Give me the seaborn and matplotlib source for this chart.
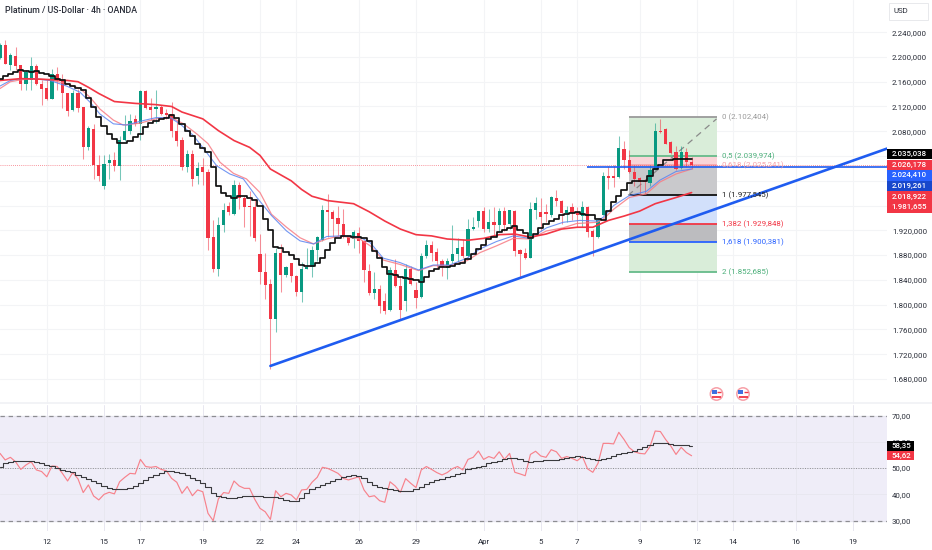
import numpy as np
import pandas as pd
import matplotlib
matplotlib.use("Agg")
import matplotlib.pyplot as plt
from matplotlib.patches import Rectangle, Circle
import seaborn as sns

opens = [2198,2219,2187,2201,2187,2156,2162,2185,2156,2150,2132,2172,2162,2141,2115,2142,2119,2055,2084,2026,1992,2029,2034,2024,2066,2081,2099,2091,2145,2119,2116,2119,2109,2108,2081,2066,
2023,2043,2008,2023,2015,1909,1857,1928,1960,1947,1994,1973,1960,1958,1882,1853,1833,1777,1884,1848,1867,1847,1820,1858,1860,1889,1904,1953,1950,1940,1931,1911,1906,1916,1902,1855,1819,1825,1806,1791,1856,1830,1806,1857,1823,1812,1879,1896,1885,1871,1859,1870,1881,1893,1879,1922,1935,1951,1922,1933,1928,1952,1931,1952,1889,1883,1876,1953,1949,1949,1945,1973,1968,1948,1957,1950,1943,1958,1919,1910,
1945,2008,2008,2006,2052,2034,2015,2004,2000,1996,2018,2080,2084,2063,2046,2021,2047,2031]
highs = [2222,2227,2206,2216,2187,2179,2200,2189,2162,2165,2181,2184,2172,2141,2146,2149,2119,2089,2092,2041,2041,2043,2046,2073,2106,2108,2106,2147,2147,2134,2146,2122,2116,2127,2098,2071,
2049,2050,2030,2037,2019,1937,1941,1964,1965,2001,1998,1976,1984,1971,1914,1884,1841,1892,1898,1863,1868,1848,1869,1891,1895,1911,1961,1979,1953,1960,1954,1911,1920,1925,1904,1866,1852,1832,1818,1860,1873,1846,1865,1863,1836,1884,1904,1903,1892,1873,1875,1929,1907,1906,1938,1942,1952,1958,1954,1958,1956,1957,1953,1953,1890,1892,1965,1974,1973,1963,1976,1985,1969,1960,1964,1957,1967,1960,1922,1938,
2014,2024,2026,2072,2065,2049,2025,2006,2003,2025,2093,2100,2085,2064,2057,2057,2053,2039]
lows = [2196,2189,2179,2179,2147,2147,2146,2154,2122,2131,2132,2146,2118,2104,2113,2111,2035,2050,2003,2000,1987,2003,2016,2002,2065,2076,2089,2066,2116,2098,2093,2106,2100,2071,2057,2017,
2014,1991,1995,1994,1889,1852,1846,1917,1944,1944,1954,1925,1911,1902,1834,1809,1696,1756,1820,1845,1837,1814,1805,1857,1844,1871,1903,1909,1909,1911,1908,1896,1892,1883,1836,1816,1809,1787,1785,1790,1828,1777,1790,1832,1795,1811,1876,1871,1859,1847,1842,1868,1865,1876,1877,1920,1925,1917,1917,1913,1919,1919,1922,1878,1844,1873,1875,1938,1919,1933,1941,1960,1930,1933,1936,1925,1925,1910,1878,1908,
1944,1987,1990,2005,2019,2012,1991,1979,1979,1991,2017,2077,2059,2043,2018,2019,2022,2019]
closes = [2219,2189,2203,2186,2156,2176,2185,2156,2149,2132,2172,2162,2142,2112,2141,2118,2055,2085,2026,2007,2027,2034,2024,2066,2081,2097,2092,2145,2118,2115,2119,2108,2106,2080,2065,2023,
2044,2003,2021,2014,1907,1857,1928,1953,1949,1994,1972,1958,1957,1907,1852,1832,1777,1884,1848,1861,1847,1820,1858,1861,1889,1909,1953,1949,1939,1931,1910,1899,1917,1902,1856,1819,1825,1798,1790,1856,1830,1791,1857,1833,1811,1879,1896,1884,1871,1860,1870,1882,1892,1879,1922,1925,1951,1922,1933,1929,1952,1929,1953,1887,1882,1876,1954,1964,1941,1946,1974,1967,1948,1953,1948,1945,1958,1918,1910,1936,
2007,2005,2005,2053,2034,2014,2003,1998,1998,2018,2080,2078,2060,2045,2019,2047,2031,2026]
signal_line = [2165,2169,2172,2176,2179,2178,2176,2178,2174,2172,2169,2165,2162,2157,2153,2150,2146,2133,2119,2103,2088,2076,2068,2061,2061,2065,2070,2075,2087,2093,2097,2100,2102,2106,2102,2091,2080,2073,2060,2053,2046,2022,1992,1981,1976,1972,1975,1976,1972,1969,1959,1939,1920,1893,1892,1885,1880,1873,1864,1863,1862,1868,1875,1889,1900,1907,1911,1911,1910,1910,1907,1902,1887,1875,1860,1849,1848,1845,1843,1841,1839,1837,1845,1854,1857,1860,1861,1863,1866,1868,1873,1881,1890,1897,1906,1910,1917,1920,1924,1927,1920,1915,1907,1914,1924,1931,1935,1939,1945,1946,1948,1949,1946,1945,1944,1938,1937,1952,1965,1976,1985,1996,2000,2000,2000,2008,2019,2026,2033,2034,2036,2036,2036,2035]
ema_x = [0,4,8,13,15,17,19,22,26,30,33,35,39,42,45,48,50,52,56,58,60,63,68,71,74,77,80,83,86,90,93,96,99,102,105,108,111,114,117,120,123,126,130,133]
ema_y = [2162,2165,2164,2162,2160,2151,2141,2128,2125,2123,2120,2111,2100,2081,2065,2054,2041,2019,2000,1986,1975,1968,1963,1950,1935,1922,1913,1911,1906,1904,1907,1913,1914,1909,1914,1922,1925,1925,1936,1943,1951,1963,1973,1981]
pink_x = [0,2,4,6.4,9.6,12.8,15.4,17.3,19.2,21.8,23.7,26.9,30,32.7,35.3,37.8,40,42.3,44.9,47.4,50,52.2,55.1,57.7,60.3,62.8,65.4,69.2,71.2,73.7,76.9,80.5,83.3,86.5,89.8,92.3,95.5,98.7,101.9,105.1,108.3,110.9,114.8,116,118,121,124.3,126.9,130,133]
pink_y = [2149,2160,2163,2165,2163,2157,2149,2135,2116,2098,2090,2093,2100,2103,2092,2076,2060,2030,2012,2003,1981,1946,1925,1908,1898,1906,1911,1906,1895,1872,1865,1855,1863,1863,1871,1884,1895,1907,1906,1919,1924,1931,1933,1938,1954,1973,1979,1998,2011,2019]
blue_x = [0,2,4,6.4,9.6,12.8,15.4,17.3,19.2,21.8,24.4,26.9,30,32.7,34.6,37.2,39.7,41.7,44.2,46.8,49.4,52.2,55.1,57.7,60.3,62.8,65.4,69.2,71.2,73.7,76.9,80.5,83.3,86.5,89.8,92.3,95.5,98.7,101.9,105.1,108.3,111.5,114.8,116,118,121,124.3,126.9,130,133]
blue_y = [2153,2162,2165,2165,2162,2153,2143,2127,2108,2092,2090,2096,2102,2102,2092,2073,2046,2024,2011,2003,1973,1944,1919,1903,1898,1910,1911,1909,1900,1875,1868,1856,1864,1864,1875,1890,1902,1911,1907,1924,1933,1936,1935,1941,1960,1976,1983,2001,2015,2019]
rsi = [55.6,53.1,54.1,52.4,49.5,51.2,52.4,49.3,48.7,46.7,50.8,50.6,48.0,45.1,48.3,45.9,40.7,43.6,39.4,37.9,40.0,40.8,40.2,44.8,46.5,48.0,47.8,53.3,50.6,50.3,50.6,49.5,49.0,46.1,44.6,40.4,43.0,39.5,41.7,41.0,32.8,30.0,38.3,40.7,40.4,45.1,43.2,42.3,42.3,38.1,34.7,33.4,30.5,41.4,39.1,40.4,39.8,37.9,41.7,41.9,44.6,46.5,50.3,49.9,49.0,48.0,46.1,45.5,46.1,46.7,41.7,39.1,39.5,37.6,37.0,44.8,43.2,40.8,46.0,44.2,42.6,49.3,50.6,49.5,48.3,47.4,48.3,49.8,50.6,49.3,
53.3,54.1,56.5,53.3,54.4,53.7,56.2,53.3,55.6,48.4,47.8,47.1,55.2,56.4,54.6,54.1,57.0,56.2,53.7,54.4,53.7,52.8,54.4,49.7,48.4,51.8,59.4,59.4,59.2,63.6,60.9,57.8,56.2,55.6,55.4,58.2,64.1,63.9,60.9,58.4,55.2,57.9,55.9,54.7]
rsi_ma = [50.6,51.8,52.4,52.8,52.8,52.8,52.8,52.4,51.8,51.2,50.8,50.2,49.3,49.0,48.7,47.4,46.7,45.9,45.1,44.2,43.2,42.3,42.1,41.9,41.9,42.3,43.2,44.2,45.5,46.5,47.4,48.3,49.0,49.0,48.7,48.0,47.4,46.1,45.5,44.2,42.7,40.7,39.5,38.9,38.5,38.8,39.1,39.4,39.4,39.4,39.5,39.1,39.0,39.0,38.5,37.9,37.6,37.6,38.5,40.4,41.9,42.7,43.6,44.2,45.1,45.7,46.5,47.0,47.3,47.0,46.1,44.8,43.6,42.7,42.3,41.9,41.7,41.3,41.2,41.4,41.9,42.7,44.0,44.8,45.5,45.9,46.5,47.0,47.8,48.3,
49.5,49.9,50.6,50.9,51.8,52.3,52.8,53.3,54.0,53.7,53.3,52.8,52.3,52.8,52.8,53.0,53.0,53.1,53.3,53.7,54.4,54.6,54.1,53.7,53.3,53.2,53.3,53.7,54.6,55.2,55.9,56.2,56.6,57.3,58.2,58.8,59.4,59.4,59.4,59.0,58.7,58.7,58.7,58.3]
price_ticks = [2240,2200,2160,2120,2080,2040,2000,1960,1920,1880,1840,1800,1760,1720,1680]
price_labels = ["2.240,000","2.200,000","2.160,000","2.120,000","2.080,000","","","","1.920,000","1.880,000","1.840,000","1.800,000","1.760,000","1.720,000","1.680,000"]
rsi_ticks = [70,60,50,40,30]
rsi_labels = ["70,00","60,00","50,00","40,00","30,00"]
time_pos = [9,20,27,39,50,57,69,80,93,104,111,123,134,141,153,164]
time_labels = ["12","15","17","19","22","24","26","29","Apr","5","7","9","12","14","16","19"]
fib_levels = [2102.404,2039.974,2025.241,1977.545,1929.848,1900.381,1852.685]
fib_names = ["0 (2.102,404)","0,5 (2.039,974)","0,618 (2.025,241)","1 (1.977,545)","1,382 (1.929,848)","1,618 (1.900,381)","2 (1.852,685)"]
fib_line_colors = ["#9a9a9a","#66bb8a","#f7a6ad","#111111","#f23645","#2962ff","#66bb8a"]
fib_text_colors = ["#9a9a9a","#4caf7a","#f7a0a8","#222222","#f23645","#2962ff","#4caf7a"]
fib_fill_colors = ["#d9edd9","#f9d4d8","#c9c9cc","#d2e0fb","#bcbcbf","#d9edd9"]
value_labels = ["2.035,038","2.026,178","2.024,410","2.019,261","2.018,922","1.981,655"]
value_colors = ["#000000","#f23645","#2962ff","#1848cc","#f23645","#f23645"]
rsi_value_labels = ["58,35","54,62"]
rsi_value_colors = ["#000000","#f23645"]
title = "Platinum / US-Dollar \u00b7 4h \u00b7 OANDA"

sns.set_theme(style="white")
plt.rcParams["font.family"] = ["Roboto", "DejaVu Sans"]

W, H = 932, 550
PX_PER_CANDLE = 5.2
PANE_R = 887
FS = 5.7
fig = plt.figure(figsize=(W/100, H/100), dpi=100, facecolor="white")
ax = fig.add_axes([0, 1-404/H, PANE_R/W, 404/H])
axr = fig.add_axes([0, 1-531/H, PANE_R/W, (531-405)/H])

TXT = "#2a2e39"
GRID = "#f3f4f6"
for a in (ax, axr):
    a.set_facecolor("white")
    for s in a.spines.values():
        s.set_visible(False)
    a.set_xlim(0, PANE_R/PX_PER_CANDLE)
    a.yaxis.tick_right()
    a.set_xticks(time_pos)
    a.grid(True, color=GRID, lw=0.8)
    a.set_axisbelow(True)
    a.tick_params(length=0, pad=3.5, labelsize=FS, labelcolor=TXT)
    a.set_xlabel("")
    a.set_ylabel("")

# price pane
ax.set_ylim(1680-25*1.619, 1680+378*1.619)
ax.set_yticks(price_ticks)
ax.set_yticklabels(price_labels)
ax.set_xticklabels([])

# fib block
left, right = 121, 137.8
for k in range(6):
    ax.add_patch(Rectangle((left, fib_levels[k+1]), right-left, fib_levels[k]-fib_levels[k+1],
                           fc=fib_fill_colors[k], ec="none", zorder=1))
for lv, lc, tc, nm in zip(fib_levels, fib_line_colors, fib_text_colors, fib_names):
    ax.hlines(lv, left, right, color=lc, lw=1.3, zorder=2)
    ax.text(right+1, lv, nm, color=tc, fontsize=FS, va="center", ha="left", zorder=8)
ax.plot([120.8, 137.8], [1976.5, 2100], color="#8a8a8a", lw=0.9, ls=(0, (5, 4)), zorder=2)

# candles
n = len(closes)
df = pd.DataFrame({"i": np.arange(n), "o": opens, "h": highs, "l": lows, "c": closes})
assert all(len(v) == n for v in (opens, highs, lows, signal_line, rsi, rsi_ma))
up = df.c >= df.o
pal = np.where(up, "#089981", "#f23645")
ax.vlines(df.i, df.l, df.h, colors=pal, lw=0.75, alpha=0.55, zorder=3)
ax.bar(df.i, (df.c-df.o).abs().clip(lower=1.5), bottom=df[["o", "c"]].min(axis=1),
       width=0.62, color=pal, lw=0, zorder=4)

# current price dotted
ax.axhline(closes[-1], color="#f23645", lw=0.6, ls=(0, (1, 1.5)), alpha=0.7, zorder=2)

# indicators
sns.lineplot(x=pink_x, y=pink_y, ax=ax, color="#f77c85", lw=0.9, alpha=0.85, estimator=None, sort=False, zorder=5)
sns.lineplot(x=blue_x, y=blue_y, ax=ax, color="#5b84f0", lw=0.8, alpha=0.85, estimator=None, sort=False, zorder=5)
sns.lineplot(x=ema_x, y=ema_y, ax=ax, color="#f23645", lw=1.2, estimator=None, sort=False, zorder=5)
sns.lineplot(x=df.i.values, y=signal_line, ax=ax, color="#111111", lw=1.25, estimator=None, sort=False,
             drawstyle="steps-mid", zorder=6)

# trend lines (extend to the pane's right edge)
ax.plot([52, PANE_R/PX_PER_CANDLE], [1701, 2052], color="#1f5cf0", lw=1.9, zorder=7, solid_capstyle="round")
ax.hlines(2023, 587/PX_PER_CANDLE, PANE_R/PX_PER_CANDLE, color="#1f5cf0", lw=1.2, zorder=7)

# rsi pane
axr.set_ylim(30-(531-520.7)/2.63, 70+(415.5-405)/2.63)
axr.set_yticks(rsi_ticks)
axr.set_yticklabels(rsi_labels)
axr.set_xticklabels(time_labels)
axr.tick_params(axis="x", pad=5.5)
axr.axhspan(30, 70, color="#efedf8", zorder=0)
axr.grid(True, color="#e8e7f0", lw=0.7)
for lv in (70, 30):
    axr.axhline(lv, color="#8d8d92", lw=0.9, ls=(0, (3.5, 3)), zorder=1)
axr.axhline(50, color="#8d8d92", lw=0.7, ls=(0, (1, 1.5)), zorder=1)
sns.lineplot(x=df.i.values, y=rsi, ax=axr, color="#f7828c", lw=0.85, estimator=None, sort=False, zorder=3)
sns.lineplot(x=df.i.values, y=rsi_ma, ax=axr, color="#3a3a3e", lw=0.8, estimator=None, sort=False,
             drawstyle="steps-mid", zorder=4)

# overlay in figure pixels
ov = fig.add_axes([0, 0, 1, 1], facecolor="none")
ov.set_xlim(0, W); ov.set_ylim(H, 0); ov.axis("off")
ov.text(5, 10.5, title, fontsize=6.3, color="#2a2e39", va="center", ha="left", fontweight="medium")
ov.add_patch(Rectangle((888.5, 3), 39, 17, fc="white", ec="#e8e9ec", lw=0.7))
ov.text(894, 11, "USD", fontsize=FS, color=TXT, va="center", ha="left")
ov.hlines(402.5, 0, W, color="#f0f1f5", lw=1.2)

# event icons
for cx in (716.5, 743):
    ov.add_patch(Circle((cx, 394), 6.2, fc="white", ec="#f7a0a8", lw=1.1))
    ov.add_patch(Rectangle((cx-5, 389.5), 5, 4.5, fc="#3f6fe0", ec="none"))
    ov.hlines(396.5, cx-4.5, cx+4.5, color="#f23645", lw=1.3)
    ov.hlines(392, cx+0.5, cx+4.5, color="#f23645", lw=1.0)

# last-value badges
for lab, col, yc in zip(value_labels, value_colors, (154, 165, 175.3, 186, 196.7, 207.3)):
    ov.add_patch(Rectangle((887, yc-5.3), 45, 10.6, fc=col, ec="none"))
    ov.text(891.7, yc, lab, color="white", fontsize=FS, va="center", ha="left", fontweight="medium")
for lab, col, yc in zip(rsi_value_labels, rsi_value_colors, (446, 455.5)):
    ov.add_patch(Rectangle((887, yc-4.8), 27, 9.6, fc=col, ec="none"))
    ov.text(891.7, yc, lab, color="white", fontsize=FS, va="center", ha="left", fontweight="medium")

fig.savefig("out.png", dpi=100, facecolor="white")
